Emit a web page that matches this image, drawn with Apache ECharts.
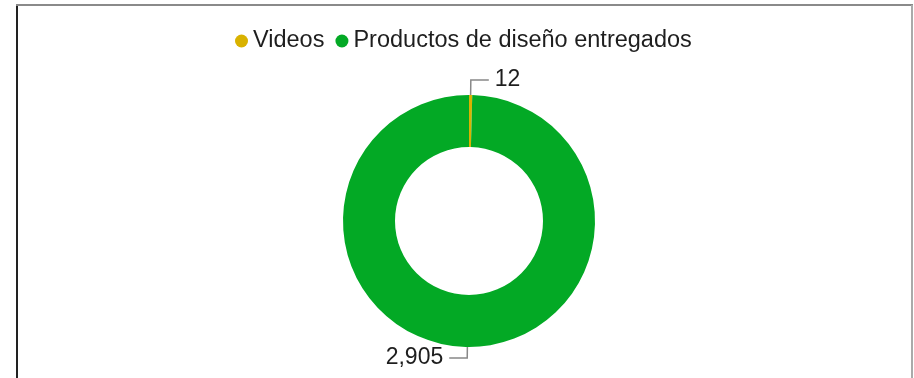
<!DOCTYPE html>
<html>
<head>
<meta charset="utf-8">
<script src="https://cdn.jsdelivr.net/npm/echarts@6/dist/echarts.min.js"></script>
<style>
  html, body { margin: 0; padding: 0; background: #fff; }
  #chart { width: 914px; height: 378px; }
</style>
</head>
<body>
<div id="chart"></div>
<script>
// Delivered items by type
const categories = ['Videos', 'Productos de diseño entregados'];
const values = [12, 2905];
const colors = ['#D9B200', '#03A925'];
// Leader line segment lengths per slice
const leadLengths = [15, 11];

const chart = echarts.init(document.getElementById('chart'), null, { renderer: 'canvas' });

const fontFamily = 'Liberation Sans, Arial, sans-serif';

chart.setOption({
  animation: false,
  color: colors,
  textStyle: { fontFamily: fontFamily },
  legend: {
    top: 24,
    left: 230,
    icon: 'circle',
    itemWidth: 13,
    itemHeight: 13,
    itemGap: 11,
    textStyle: { fontSize: 23.5, color: '#1e1e1e', fontFamily: fontFamily },
    data: categories
  },
  graphic: [
    { type: 'line', shape: { x1: 17, y1: 5, x2: 17, y2: 400 }, style: { stroke: '#222', lineWidth: 2 } },
    { type: 'line', shape: { x1: 16, y1: 5, x2: 913, y2: 5 }, style: { stroke: '#8a8a8a', lineWidth: 2 } },
    { type: 'line', shape: { x1: 912, y1: 5, x2: 912, y2: 400 }, style: { stroke: '#aaa', lineWidth: 2 } }
  ],
  series: [{
    type: 'pie',
    center: [469, 221],
    radius: [74, 126],
    startAngle: 90,
    clockwise: true,
    avoidLabelOverlap: false,
    label: {
      show: true,
      formatter: p => p.value.toLocaleString('en-US'),
      fontSize: 23,
      color: '#1e1e1e',
      fontFamily: fontFamily,
      distanceToLabelLine: 6
    },
    labelLine: {
      show: true,
      lineStyle: { color: '#888', width: 1.5 }
    },
    data: categories.map((name, i) => ({
      name: name,
      value: values[i],
      labelLine: { length: leadLengths[i], length2: 18 }
    }))
  }]
});
</script>
</body>
</html>
